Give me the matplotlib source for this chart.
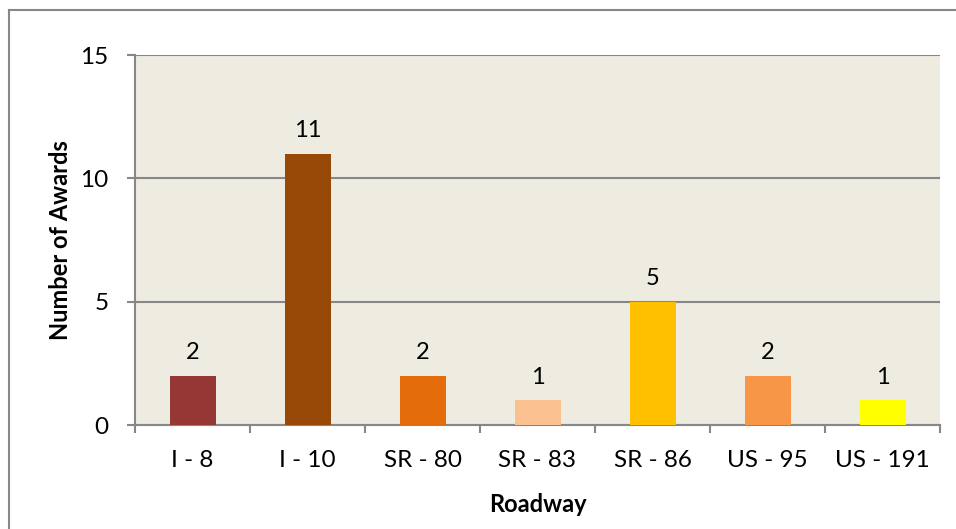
import matplotlib.pyplot as plt
from matplotlib.lines import Line2D

plt.rcParams['font.family'] = ['Lato', 'DejaVu Sans']

roadways = ['I - 8', 'I - 10', 'SR - 80', 'SR - 83', 'SR - 86', 'US - 95', 'US - 191']
awards = [2, 11, 2, 1, 5, 2, 1]
bar_colors = ['#953735', '#984807', '#E46C0A', '#FAC090', '#FFC000', '#F79646', '#FFFF00']

W, H = 956, 529
fig = plt.figure(figsize=(W / 100, H / 100), dpi=100)

# plot area in pixel terms
left, right, top, bottom = 135, 940, 55, 425
ax = fig.add_axes([left / W, 1 - bottom / H, (right - left) / W, (bottom - top) / H])
ax.set_facecolor('#EEECE1')

x = list(range(len(roadways)))
ax.bar(x, awards, width=0.4, color=bar_colors, zorder=3)
for xi, v in zip(x, awards):
    ax.annotate(str(v), (xi, v), xytext=(0, 16.5), textcoords='offset points',
                ha='center', va='center', fontsize=17)

ax.set_xlim(-0.5, len(roadways) - 0.5)
ax.set_ylim(0, 15)
ax.set_yticks([0, 5, 10, 15])
ax.yaxis.grid(True, color='#878787', linewidth=1.5, zorder=0)
ax.set_axisbelow(True)

ax.set_xticks(x)
ax.set_xticklabels(roadways, fontsize=17.5)
ax.set_xticks([i - 0.5 for i in range(len(roadways) + 1)], minor=True)
ax.tick_params(axis='x', which='major', length=0, pad=18)
ax.tick_params(axis='x', which='minor', length=6, width=1.5, color='#878787')
ax.tick_params(axis='y', labelsize=17.5, length=6, width=1.5, color='#878787', pad=13)

for side in ['top', 'right']:
    ax.spines[side].set_visible(False)
for side in ['left', 'bottom']:
    ax.spines[side].set_color('#878787')
    ax.spines[side].set_linewidth(1.5)

ax.set_xlabel('Roadway', fontsize=17, fontweight='bold', labelpad=16)
ax.set_ylabel('Number of Awards', fontsize=17, fontweight='bold', labelpad=6)

# outer chart border
fig.add_artist(Line2D([9 / W, 1], [1 - 10 / H, 1 - 10 / H], color='#878787', linewidth=1.5))
fig.add_artist(Line2D([9 / W, 9 / W], [0, 1 - 10 / H], color='#878787', linewidth=1.5))

fig.savefig('out.png', dpi=100)
